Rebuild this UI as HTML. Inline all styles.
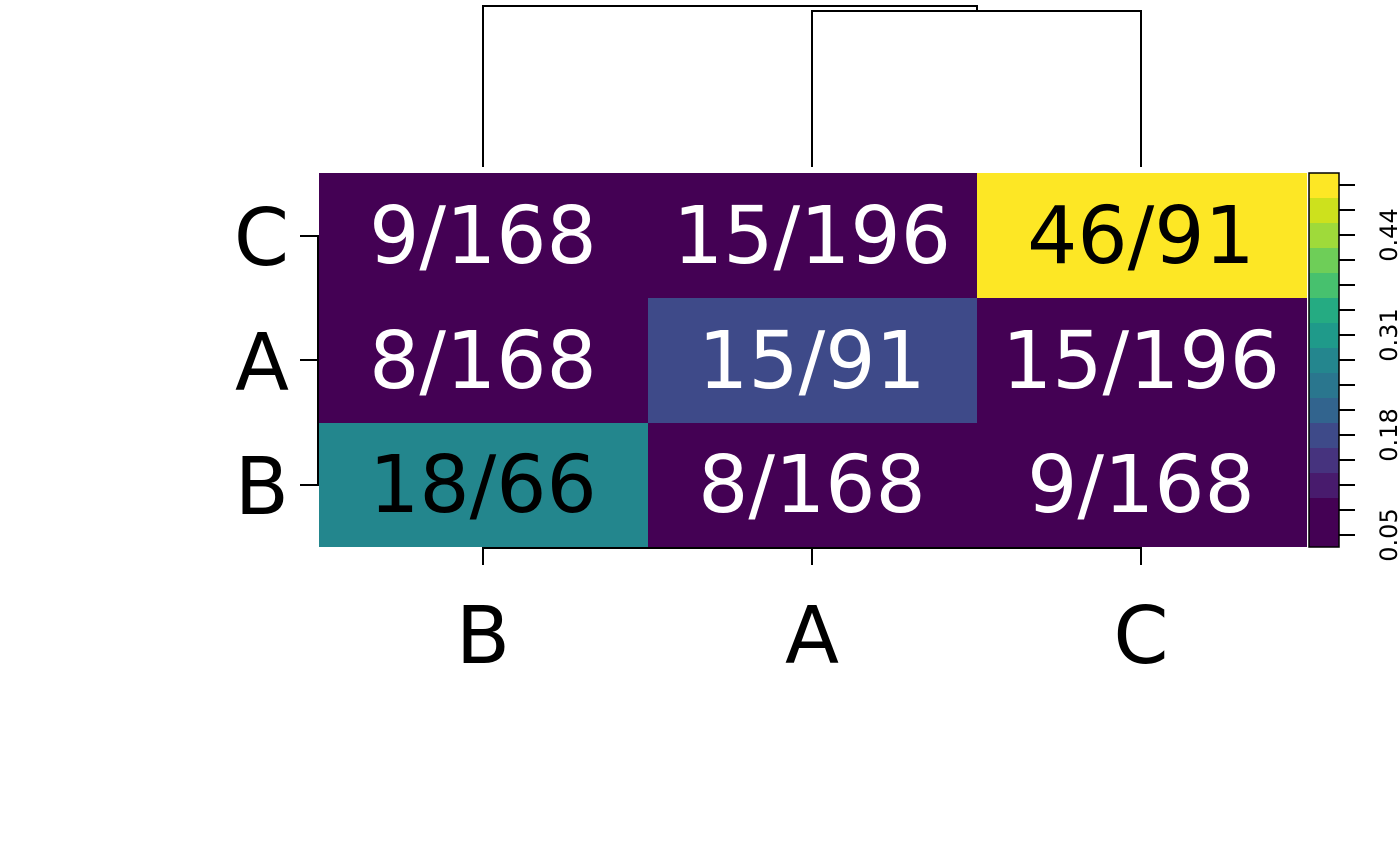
<!DOCTYPE html>
<html><head><meta charset="utf-8"><style>
html,body{margin:0;padding:0;background:#fff;width:1400px;height:866px;overflow:hidden}
svg{display:block}
text{font-family:"DejaVu Sans","Liberation Sans",sans-serif}
</style></head><body>
<svg width="1400" height="866" viewBox="0 0 1400 866" xmlns="http://www.w3.org/2000/svg">
<rect width="1400" height="866" fill="#fff"/>
<g stroke="#000" stroke-width="2" fill="none">
<polyline points="483,167 483,6 977,6 977,11"/>
<polyline points="812,167 812,11 1141,11 1141,167"/>
</g>
<rect x="319" y="173" width="329" height="125" fill="#440154"/>
<rect x="648" y="173" width="329" height="125" fill="#440154"/>
<rect x="977" y="173" width="330" height="125" fill="#FDE725"/>
<rect x="319" y="298" width="329" height="125" fill="#440154"/>
<rect x="648" y="298" width="329" height="125" fill="#3E4A89"/>
<rect x="977" y="298" width="330" height="125" fill="#440154"/>
<rect x="319" y="423" width="329" height="124" fill="#23868D"/>
<rect x="648" y="423" width="329" height="124" fill="#440154"/>
<rect x="977" y="423" width="330" height="124" fill="#440154"/>
<g font-size="79" text-anchor="middle">
<text x="483" y="263" fill="#fff">9/168</text>
<text x="812" y="263" fill="#fff">15/196</text>
<text x="1141" y="263" fill="#000">46/91</text>
<text x="483" y="388" fill="#fff">8/168</text>
<text x="812" y="388" fill="#fff">15/91</text>
<text x="1141" y="388" fill="#fff">15/196</text>
<text x="483" y="512" fill="#000">18/66</text>
<text x="812" y="512" fill="#fff">8/168</text>
<text x="1141" y="512" fill="#fff">9/168</text>
</g>
<g stroke="#000" stroke-width="2">
<line x1="318" y1="235" x2="318" y2="486"/>
<line x1="300" y1="236" x2="318" y2="236"/>
<line x1="300" y1="360" x2="318" y2="360"/>
<line x1="300" y1="485" x2="318" y2="485"/>
<line x1="482" y1="548" x2="1142" y2="548"/>
<line x1="483" y1="548" x2="483" y2="565"/>
<line x1="812" y1="548" x2="812" y2="565"/>
<line x1="1141" y1="548" x2="1141" y2="565"/>
</g>
<g font-size="79" fill="#000">
<text x="289" y="265" text-anchor="end">C</text>
<text x="289" y="390" text-anchor="end">A</text>
<text x="289" y="514" text-anchor="end">B</text>
<text x="483" y="663" text-anchor="middle">B</text>
<text x="812" y="663" text-anchor="middle">A</text>
<text x="1141" y="663" text-anchor="middle">C</text>
</g>
<rect x="1309" y="173" width="30" height="25" fill="#FDE725"/>
<rect x="1309" y="198" width="30" height="25" fill="#CDE11D"/>
<rect x="1309" y="223" width="30" height="25" fill="#9FDA3A"/>
<rect x="1309" y="248" width="30" height="25" fill="#6ECE58"/>
<rect x="1309" y="273" width="30" height="25" fill="#47C16E"/>
<rect x="1309" y="298" width="30" height="25" fill="#25AB82"/>
<rect x="1309" y="323" width="30" height="25" fill="#1F9A8A"/>
<rect x="1309" y="348" width="30" height="25" fill="#24868E"/>
<rect x="1309" y="373" width="30" height="25" fill="#2A768E"/>
<rect x="1309" y="398" width="30" height="25" fill="#32648E"/>
<rect x="1309" y="423" width="30" height="25" fill="#3E4A89"/>
<rect x="1309" y="448" width="30" height="25" fill="#46337E"/>
<rect x="1309" y="473" width="30" height="25" fill="#481B6D"/>
<rect x="1309" y="498" width="30" height="49" fill="#440154"/>
<rect x="1309" y="173" width="30" height="374" fill="none" stroke="#000" stroke-width="1.5"/>
<g stroke="#000" stroke-width="2">
<line x1="1339" y1="185" x2="1355" y2="185"/>
<line x1="1339" y1="210" x2="1355" y2="210"/>
<line x1="1339" y1="235" x2="1355" y2="235"/>
<line x1="1339" y1="260" x2="1355" y2="260"/>
<line x1="1339" y1="285" x2="1355" y2="285"/>
<line x1="1339" y1="310" x2="1355" y2="310"/>
<line x1="1339" y1="335" x2="1355" y2="335"/>
<line x1="1339" y1="360" x2="1355" y2="360"/>
<line x1="1339" y1="385" x2="1355" y2="385"/>
<line x1="1339" y1="410" x2="1355" y2="410"/>
<line x1="1339" y1="435" x2="1355" y2="435"/>
<line x1="1339" y1="460" x2="1355" y2="460"/>
<line x1="1339" y1="485" x2="1355" y2="485"/>
<line x1="1339" y1="510" x2="1355" y2="510"/>
<line x1="1339" y1="535" x2="1355" y2="535"/>
</g>
<g font-size="24" fill="#000" text-anchor="middle">
<text transform="translate(1397,535) rotate(-90)">0.05</text>
<text transform="translate(1397,435) rotate(-90)">0.18</text>
<text transform="translate(1397,335) rotate(-90)">0.31</text>
<text transform="translate(1397,235) rotate(-90)">0.44</text>
</g>
</svg>
</body></html>
